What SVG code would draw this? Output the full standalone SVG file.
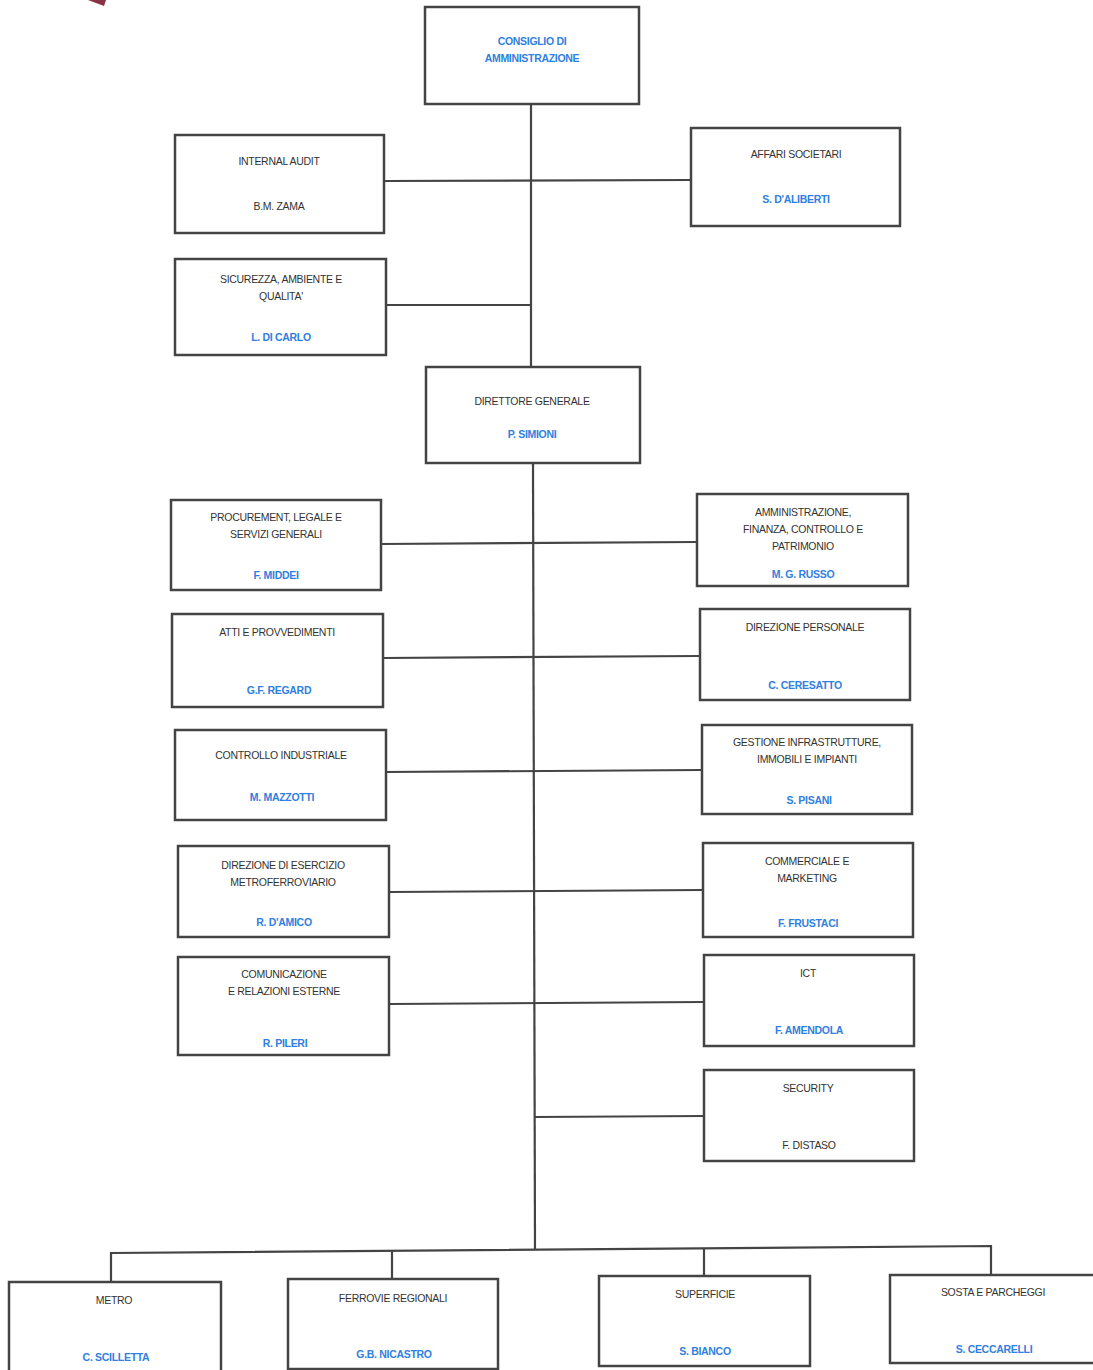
<svg xmlns="http://www.w3.org/2000/svg" width="1093" height="1370" viewBox="0 0 1093 1370">
<style>
.box{fill:#fff;stroke:#444;stroke-width:2.5}
.ln{fill:none;stroke:#444;stroke-width:2.2}
.t{font-family:"Liberation Sans",Arial,sans-serif;font-size:10.5px;fill:#333;text-anchor:middle;letter-spacing:-0.3px}
.b{fill:#2f80e0;font-weight:bold}
</style>
<rect width="1093" height="1370" fill="#fff"/>
<polygon points="88,0 106,0 104,6" fill="#8a3344"/>
<g id="connectors">
<line class="ln" x1="531" y1="104" x2="531" y2="367"/>
<line class="ln" x1="384" y1="181" x2="691" y2="180"/>
<line class="ln" x1="386" y1="305" x2="531" y2="305"/>
<line class="ln" x1="533" y1="463" x2="535" y2="1250"/>
<line class="ln" x1="381" y1="544" x2="697" y2="542"/>
<line class="ln" x1="383" y1="658" x2="700" y2="656"/>
<line class="ln" x1="386" y1="772" x2="702" y2="770"/>
<line class="ln" x1="389" y1="892" x2="703" y2="890"/>
<line class="ln" x1="389" y1="1004" x2="704" y2="1002"/>
<line class="ln" x1="535" y1="1117" x2="704" y2="1116"/>
<polyline class="ln" points="111,1282 111,1253 991,1246 991,1275"/>
<line class="ln" x1="392" y1="1251" x2="392" y2="1279"/>
<line class="ln" x1="704" y1="1248" x2="704" y2="1276"/>
</g>
<g id="cda"><rect class="box" x="425" y="7" width="214" height="97"/>
<text class="t b" x="532" y="45">CONSIGLIO DI</text><text class="t b" x="532" y="62">AMMINISTRAZIONE</text></g>
<g id="internal-audit"><rect class="box" x="175" y="135" width="209" height="98"/>
<text class="t" x="279" y="165">INTERNAL AUDIT</text><text class="t" x="279" y="210">B.M. ZAMA</text></g>
<g id="affari-societari"><rect class="box" x="691" y="128" width="209" height="98"/>
<text class="t" x="796" y="158">AFFARI SOCIETARI</text><text class="t b" x="796" y="203">S. D'ALIBERTI</text></g>
<g id="sicurezza"><rect class="box" x="175" y="259" width="211" height="96"/>
<text class="t" x="281" y="283">SICUREZZA, AMBIENTE E</text><text class="t" x="281" y="300">QUALITA'</text><text class="t b" x="281" y="341">L. DI CARLO</text></g>
<g id="direttore-generale"><rect class="box" x="426" y="367" width="214" height="96"/>
<text class="t" x="532" y="405">DIRETTORE GENERALE</text><text class="t b" x="532" y="438">P. SIMIONI</text></g>
<g id="procurement"><rect class="box" x="171" y="500" width="210" height="90"/>
<text class="t" x="276" y="521">PROCUREMENT, LEGALE E</text><text class="t" x="276" y="538">SERVIZI GENERALI</text><text class="t b" x="276" y="579">F. MIDDEI</text></g>
<g id="amministrazione"><rect class="box" x="697" y="494" width="211" height="92"/>
<text class="t" x="803" y="516">AMMINISTRAZIONE,</text><text class="t" x="803" y="533">FINANZA, CONTROLLO E</text><text class="t" x="803" y="550">PATRIMONIO</text><text class="t b" x="803" y="578">M. G. RUSSO</text></g>
<g id="atti"><rect class="box" x="172" y="614" width="211" height="93"/>
<text class="t" x="277" y="636">ATTI E PROVVEDIMENTI</text><text class="t b" x="279" y="694">G.F. REGARD</text></g>
<g id="personale"><rect class="box" x="700" y="609" width="210" height="91"/>
<text class="t" x="805" y="631">DIREZIONE PERSONALE</text><text class="t b" x="805" y="689">C. CERESATTO</text></g>
<g id="controllo-industriale"><rect class="box" x="175" y="730" width="211" height="90"/>
<text class="t" x="281" y="759">CONTROLLO INDUSTRIALE</text><text class="t b" x="282" y="801">M. MAZZOTTI</text></g>
<g id="gestione-infrastrutture"><rect class="box" x="702" y="725" width="210" height="89"/>
<text class="t" x="807" y="746">GESTIONE INFRASTRUTTURE,</text><text class="t" x="807" y="763">IMMOBILI E IMPIANTI</text><text class="t b" x="809" y="804">S. PISANI</text></g>
<g id="esercizio"><rect class="box" x="178" y="846" width="211" height="91"/>
<text class="t" x="283" y="869">DIREZIONE DI ESERCIZIO</text><text class="t" x="283" y="886">METROFERROVIARIO</text><text class="t b" x="284" y="926">R. D'AMICO</text></g>
<g id="commerciale"><rect class="box" x="703" y="843" width="210" height="94"/>
<text class="t" x="807" y="865">COMMERCIALE E</text><text class="t" x="807" y="882">MARKETING</text><text class="t b" x="808" y="927">F. FRUSTACI</text></g>
<g id="comunicazione"><rect class="box" x="178" y="957" width="211" height="98"/>
<text class="t" x="284" y="978">COMUNICAZIONE</text><text class="t" x="284" y="995">E RELAZIONI ESTERNE</text><text class="t b" x="285" y="1047">R. PILERI</text></g>
<g id="ict"><rect class="box" x="704" y="955" width="210" height="91"/>
<text class="t" x="808" y="977">ICT</text><text class="t b" x="809" y="1034">F. AMENDOLA</text></g>
<g id="security"><rect class="box" x="704" y="1070" width="210" height="91"/>
<text class="t" x="808" y="1092">SECURITY</text><text class="t" x="809" y="1149">F. DISTASO</text></g>
<g id="metro"><rect class="box" x="9" y="1282" width="212" height="92"/>
<text class="t" x="114" y="1304">METRO</text><text class="t b" x="116" y="1361">C. SCILLETTA</text></g>
<g id="ferrovie"><rect class="box" x="288" y="1279" width="210" height="90"/>
<text class="t" x="393" y="1302">FERROVIE REGIONALI</text><text class="t b" x="394" y="1358">G.B. NICASTRO</text></g>
<g id="superficie"><rect class="box" x="599" y="1276" width="211" height="90"/>
<text class="t" x="705" y="1298">SUPERFICIE</text><text class="t b" x="705" y="1355">S. BIANCO</text></g>
<g id="sosta"><rect class="box" x="890" y="1275" width="210" height="88"/>
<text class="t" x="993" y="1296">SOSTA E PARCHEGGI</text><text class="t b" x="994" y="1353">S. CECCARELLI</text></g>
</svg>
